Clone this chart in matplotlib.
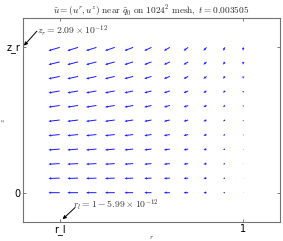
import numpy as np
import matplotlib
matplotlib.use("Agg")
import matplotlib.pyplot as plt

plt.rcParams['mathtext.fontset'] = 'cm'

# grid positions (normalised: r_l -> 0, 1 -> 1 ; z: 0 -> 0, z_r -> 1)
r_pts = [0.0, 0.1, 0.2, 0.3, 0.4, 0.5, 0.6, 0.7, 0.8, 0.9, 1.0]
z_pts = [0.0, 0.1, 0.2, 0.3, 0.4, 0.5, 0.6, 0.7, 0.8, 0.9, 1.0]
# radial velocity per column (r_l ... 1), vertical velocity per row (0 ... z_r)
u_r = [-0.061, -0.058, -0.056, -0.053, -0.047, -0.039, -0.032, -0.025, -0.017, -0.010, -0.001]
u_z = [0.0, -0.002, -0.004, -0.006, -0.0075, -0.009, -0.011, -0.013, -0.016, -0.019, -0.023]

x_ticks = [0.0, 1.0]
x_ticklabels = ['r_l', '1']
y_ticks = [0.0, 1.0]
y_ticklabels = ['0', 'z_r']

title = (r'$\tilde{u}=(u^r,u^z)\ \mathrm{near}\ \tilde{q}_0\ \mathrm{on}\ 1024^2\ '
         r'\mathrm{mesh},\ t=0.003505$')
note_z = r'$z_r=2.09\times10^{-12}$'
note_r = r'$r_l=1-5.99\times10^{-12}$'

R, Z = np.meshgrid(r_pts, z_pts)
U, W = np.meshgrid(u_r, u_z)

fig = plt.figure(figsize=(2.83, 2.41), dpi=100)
ax = fig.add_axes([0.0813, 0.080, 0.908, 0.844])
ax.quiver(R, Z, U, W, angles='xy', scale_units='xy', scale=1, color='#1a1aff',
          width=0.0038, headwidth=2.6, headlength=2.8, headaxislength=2.5, minlength=0.5)

ax.set_xlim(-0.2, 1.2)
ax.set_ylim(-0.2, 1.2)
ax.set_xticks(x_ticks)
ax.set_xticklabels(x_ticklabels)
ax.set_yticks(y_ticks)
ax.set_yticklabels(y_ticklabels)
ax.tick_params(direction='in', length=2.5, width=0.6, labelsize=7, pad=2,
               top=True, right=True, color='0.4')
for s in ax.spines.values():
    s.set_color('0.45')
    s.set_linewidth(0.8)

ax.set_title(title, fontsize=6.7, pad=3, color='0.15')
ax.set_xlabel('$r$', fontsize=5, color='0.2')
ax.set_ylabel('$z$', fontsize=5, color='0.2')
ax.xaxis.set_label_coords(0.5, -0.058)
ax.yaxis.set_label_coords(-0.062, 0.5)

arrow_kw = dict(arrowstyle='-|>', color='black', lw=0.7, mutation_scale=5,
                shrinkA=0, shrinkB=0)
ax.annotate('', xy=(-0.195, 1.012), xytext=(-0.124, 1.112), arrowprops=arrow_kw,
            annotation_clip=False)
ax.text(-0.122, 1.112, note_z, fontsize=7, va='center', ha='left', color='0.2')
ax.annotate('', xy=(0.016, -0.183), xytext=(0.084, -0.102), arrowprops=arrow_kw,
            annotation_clip=False)
ax.text(0.07, -0.087, note_r, fontsize=7, va='center', ha='left', color='0.2')

fig.savefig('out.png', dpi=100)
